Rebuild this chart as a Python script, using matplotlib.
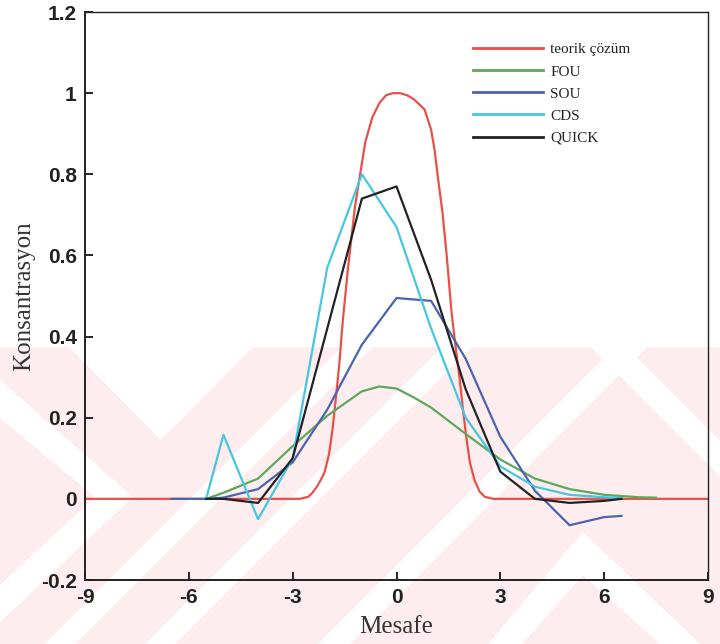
import matplotlib
matplotlib.use("Agg")
import matplotlib.pyplot as plt
from matplotlib.patches import Polygon, Rectangle

plt.rcParams["axes.unicode_minus"] = False

# --- data ---
x_teorik = [-9, -2.8, -2.55, -2.43, -2.3, -2.18, -2.08, -1.95, -1.85, -1.75, -1.65, -1.55,
            -1.4, -1.2, -1.07, -0.9, -0.7, -0.5, -0.3, -0.1, 0.1, 0.3, 0.5, 0.81, 1.0,
            1.1, 1.2, 1.33, 1.45, 1.59, 1.7, 1.82, 1.92, 2.02, 2.12, 2.25, 2.4, 2.55, 2.8, 9]
y_teorik = [0, 0, 0.005, 0.015, 0.03, 0.048, 0.065, 0.11, 0.17, 0.25, 0.335, 0.44,
            0.57, 0.72, 0.79, 0.88, 0.94, 0.975, 0.995, 1.0, 1.0, 0.995, 0.985, 0.96, 0.91,
            0.86, 0.79, 0.705, 0.6, 0.46, 0.38, 0.3, 0.22, 0.15, 0.09, 0.047, 0.018, 0.005, 0, 0]

x_fou = [-5.5, -5, -4, -3, -2, -1, -0.5, 0, 0.5, 1, 2, 3, 4, 5, 6, 7, 7.5]
y_fou = [0, 0.015, 0.05, 0.13, 0.205, 0.265, 0.277, 0.272, 0.25, 0.225, 0.16, 0.097, 0.05,
         0.024, 0.01, 0.004, 0.003]

x_sou = [-6.5, -5.5, -5, -4, -3, -2, -1, 0, 1, 2, 3, 4, 5, 6, 6.5]
y_sou = [0, 0, 0.003, 0.024, 0.09, 0.22, 0.38, 0.495, 0.488, 0.345, 0.153, 0.02, -0.065,
         -0.045, -0.042]

x_cds = [-5.5, -5, -4, -3, -2, -1, 0, 1, 2, 3, 4, 5, 6, 6.5]
y_cds = [0, 0.158, -0.05, 0.1, 0.57, 0.8, 0.67, 0.42, 0.2, 0.08, 0.03, 0.01, 0.004, 0.002]

x_quick = [-5.5, -5, -4, -3, -2, -1, 0, 1, 2, 3, 4, 5, 6, 6.5]
y_quick = [0, 0, -0.01, 0.1, 0.42, 0.74, 0.77, 0.54, 0.27, 0.067, 0.0, -0.01, -0.005, 0]

series = [
    ("teorik çözüm", x_teorik, y_teorik, "#e9504a"),
    ("FOU", x_fou, y_fou, "#5ca85c"),
    ("SOU", x_sou, y_sou, "#4a64ad"),
    ("CDS", x_cds, y_cds, "#45c6e2"),
    ("QUICK", x_quick, y_quick, "#222222"),
]

W, H = 720, 644
fig = plt.figure(figsize=(W / 100, H / 100), dpi=100)

# faint pink watermark pattern behind the chart (pixel coords, y down)
bg = fig.add_axes([0, 0, 1, 1], zorder=0)
bg.set_xlim(0, W)
bg.set_ylim(H, 0)
bg.axis("off")
pink = "#fdedef"
bg.add_patch(Rectangle((0, 347), W, H - 347, color=pink, lw=0))


def slash(xb, w):
    # white "/" stripe, left edge at xb on the bottom row
    return [(xb, H), (xb + w, H), (xb + w + (H - 340), 340), (xb + (H - 340), 340)]


white_polys = [
    [(68, 346), (254, 346), (161, 440)],                       # V notch
    [(0, 380), (0, 418), (95, 497), (0, 585), (0, 622), (133, 497)],  # ">" chevron
    slash(45, 30),
    slash(145, 30),
    slash(318, 32),
    [(590, 346), (625, 346), (720, 441), (720, 476)],          # right "\" stripe
    [(583, 532), (488, 644), (522, 644), (583, 575), (660, 644), (700, 644)],  # "^"
]
for pts in white_polys:
    bg.add_patch(Polygon(pts, closed=True, color="white", lw=0))

ax = fig.add_axes([85 / W, 1 - 580 / H, (708 - 85) / W, (580 - 12) / H], zorder=1)
ax.set_facecolor("none")

for label, xs, ys, col in series:
    ax.plot(xs, ys, color=col, lw=1.6, label=label)

ax.set_xlim(-9, 9)
ax.set_ylim(-0.2, 1.2)
ax.set_xticks([-9, -6, -3, 0, 3, 6, 9])
ax.set_yticks([-0.2, 0, 0.2, 0.4, 0.6, 0.8, 1.0, 1.2])
ax.set_yticklabels(["-0.2", "0", "0.2", "0.4", "0.6", "0.8", "1", "1.2"])
ax.tick_params(direction="in", length=6, width=1.2, top=False, right=False,
               labelsize=15, pad=6)
for lab in ax.get_xticklabels() + ax.get_yticklabels():
    lab.set_fontweight("bold")
    lab.set_family("Liberation Sans")
    lab.set_color("#222222")
for sp in ax.spines.values():
    sp.set_linewidth(1.4)
    sp.set_color("#222222")
ax.spines["top"].set_linewidth(1.0)
ax.spines["right"].set_linewidth(1.0)

ax.set_xlabel("Mesafe", family="Liberation Serif", fontsize=18, color="#333333", labelpad=6)
ax.set_ylabel("Konsantrasyon", family="Liberation Serif", fontsize=18, color="#333333",
              labelpad=4)

leg = ax.legend(loc="upper left", bbox_to_anchor=(0.6, 0.97), frameon=False,
                prop={"family": "Liberation Serif", "size": 11},
                handlelength=4.6, handletextpad=0.5, labelspacing=0.55)
for t in leg.get_texts():
    t.set_color("#222222")
for h in leg.get_lines():
    h.set_linewidth(2.0)

fig.savefig("out.png", dpi=100)
